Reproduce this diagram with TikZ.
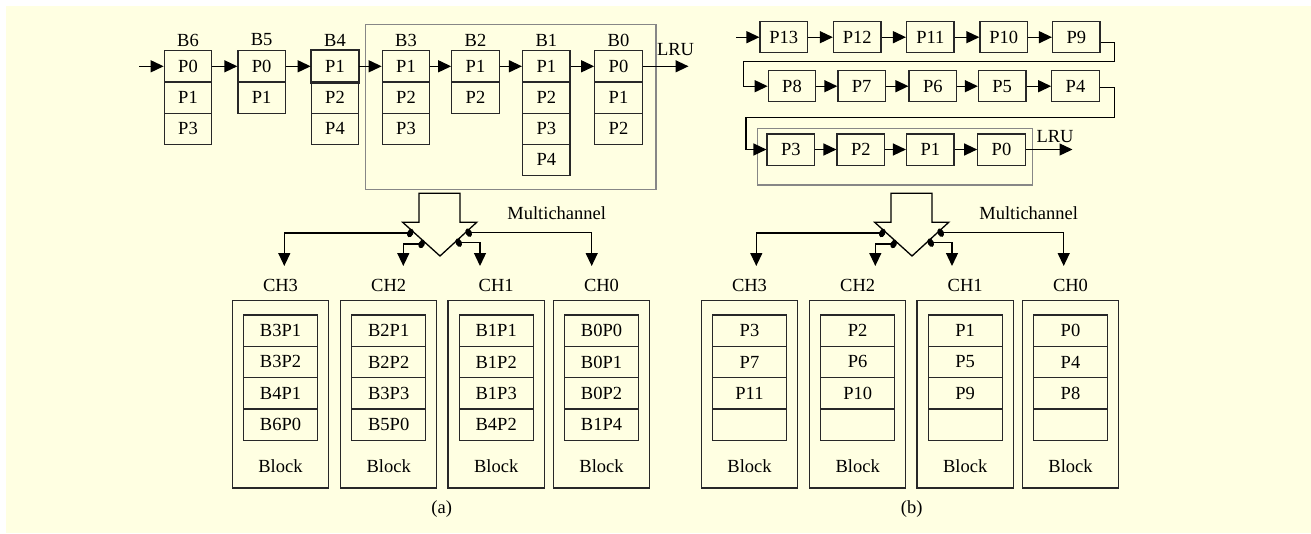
\documentclass[tikz,border=0pt]{standalone}
\usepackage{fontspec}
\setmainfont{Liberation Serif}
\usetikzlibrary{arrows.meta,shapes.geometric}
\definecolor{bg}{RGB}{255,255,226}
\definecolor{frame}{RGB}{135,135,135}
\definecolor{lc}{RGB}{40,40,40}
\newcommand\dfont{\fontsize{18.5}{21}\selectfont}
\begin{document}
\begin{tikzpicture}[x=1pt,y=-1pt,
  every node/.style={font=\dfont, inner sep=0pt},
  cell/.style={draw=lc, line width=1.2pt, minimum width=47.5pt, minimum height=31.2pt},
  icell/.style={draw=lc, line width=1.2pt, minimum width=73.9pt, minimum height=31.3pt},
  outerbox/.style={draw=lc, line width=1.2pt, minimum width=96.3pt, minimum height=187.5pt},
  arr/.style={-{Triangle[length=13pt,width=12pt]}, line width=1.3pt, draw=black},
  sw/.style={draw=black, line width=1.3pt},
  dotn/.style={ellipse, fill=black, minimum width=6pt, minimum height=9pt, rotate=-25},
  grp/.style={draw=frame, line width=1.1pt}]
\path[use as bounding box] (0,0) rectangle (1311,533);
\fill[bg] (6,6) rectangle (1311,533);

% ---------------- panel (a): block list ----------------
\draw[grp] (365.7,24.3) rectangle (656,189.3);
\foreach \n/\x/\lst in {6/188/{P0,P1,P3}, 5/261.7/{P0,P1}, 4/335/{P1,P2,P4}, 3/406/{P1,P2,P3}, 2/475.5/{P1,P2}, 1/546.3/{P1,P2,P3,P4}, 0/618.5/{P0,P1,P2}} {
  \node (hb\n) at (\x,40) {B\n};
  \foreach \t [count=\i] in \lst {
    \node[cell] (b\n c\i) at (\x,{66.3+31.2*(\i-1)}) {\t};
  }
}
\draw[draw=lc, line width=2pt] (b4c1.north west) rectangle (b4c1.south east);
\coordinate (ina) at (139,66.3);
\coordinate (lrua) at (688.5,66.3);
\draw[arr] (ina) -- (b6c1.west);
\draw[arr] (b6c1.east) -- (b5c1.west);
\draw[arr] (b5c1.east) -- (b4c1.west);
\draw[arr] (b4c1.east) -- (b3c1.west);
\draw[arr] (b3c1.east) -- (b2c1.west);
\draw[arr] (b2c1.east) -- (b1c1.west);
\draw[arr] (b1c1.east) -- (b0c1.west);
\draw[arr] (b0c1.east) -- (lrua);
\node (lrula) at (675.5,49.5) {LRU};

% ---------------- panel (b): page list ----------------
\draw[grp] (757.3,128.3) rectangle (1032.7,185);
\foreach \n/\x/\y in {13/783.8/37.2, 12/857.2/37.2, 11/930.3/37.2, 10/1003.7/37.2, 9/1076.3/37.2,
                      8/792/86.2, 7/861.7/86.2, 6/932.8/86.2, 5/1002.2/86.2, 4/1075.5/86.2,
                      3/790.8/149.5, 2/860.8/149.5, 1/930.3/149.5, 0/1001.5/149.5} {
  \node[cell] (p\n) at (\x,\y) {P\n};
}
\coordinate (inb) at (736,37.2);
\coordinate (lrub) at (1072.5,149.5);
\draw[arr] (inb) -- (p13.west);
\draw[arr] (p13.east) -- (p12.west);
\draw[arr] (p12.east) -- (p11.west);
\draw[arr] (p11.east) -- (p10.west);
\draw[arr] (p10.east) -- (p9.west);
\draw[arr] (p8.east) -- (p7.west);
\draw[arr] (p7.east) -- (p6.west);
\draw[arr] (p6.east) -- (p5.west);
\draw[arr] (p5.east) -- (p4.west);
\draw[arr] (p3.east) -- (p2.west);
\draw[arr] (p2.east) -- (p1.west);
\draw[arr] (p1.east) -- (p0.west);
\draw[arr] (p0.east) -- (lrub);
\node (lrulb) at (1055,136.7) {LRU};
\coordinate (w1a) at (1114.7,61.3);
\coordinate (w1b) at (743.3,61.3);
\coordinate (w2a) at (1114.7,117.7);
\coordinate (w2b) at (746,117.7);
\draw[arr] ([yshift=-5pt]p9.east) -| (w1a) -- (w1b) |- (p8.west);
\draw[arr] ([yshift=-1.5pt]p4.east) -| (w2a) -- (w2b) |- (p3.west);

% ---------------- multichannel switches ----------------
\foreach \s/\dx in {a/0, b/472} {
  \begin{scope}[xshift=\dx]
    \draw[sw, fill=bg] (419,193.3) -- (460,193.3) -- (460,222.3) -- (476.7,222.3) -- (440,256)
       -- (402.7,222.3) -- (419,222.3) -- cycle;
    \node[dotn] (dlo\s) at (410.3,233) {};
    \node[dotn] (dli\s) at (421.7,244) {};
    \node[dotn, rotate=50] (dri\s) at (458.7,242.7) {};
    \node[dotn, rotate=50] (dro\s) at (468.7,232.7) {};
    \coordinate (t3\s) at (284.3,266);
    \coordinate (t2\s) at (403.3,266);
    \coordinate (t1\s) at (480,266);
    \coordinate (t0\s) at (591.7,266);
    \draw[arr] (dlo\s.center) -| (t3\s);
    \draw[arr] (dli\s.center) -| (t2\s);
    \draw[arr] (dri\s.center) -| (t1\s);
    \draw[arr] (dro\s.center) -| (t0\s);
    \node (mc\s) at (556.7,213.3) {Multichannel};
  \end{scope}
}

% ---------------- channel blocks (a) ----------------
\foreach \c/\x/\lst in {3/280.5/{B3P1,B3P2,B4P1,B6P0}, 2/388.7/{B2P1,B2P2,B3P3,B5P0}, 1/496.2/{B1P1,B1P2,B1P3,B4P2}, 0/601.5/{B0P0,B0P1,B0P2,B1P4}} {
  \node[outerbox] (oa\c) at (\x,394.25) {};
  \node (cha\c) at (\x,285) {CH\c};
  \node (bka\c) at (\x,466) {Block};
  \foreach \t [count=\i] in \lst {
    \node[icell] (ia\c-\i) at (\x,{330.65+31.3*(\i-1)}) {\t};
  }
}
\node (capa) at (441.7,509.3) {(a)};

% ---------------- channel blocks (b) ----------------
\foreach \c/\x/\lst in {3/749.5/{P3,P7,P11}, 2/857.7/{P2,P6,P10}, 1/965.2/{P1,P5,P9}, 0/1070.5/{P0,P4,P8}} {
  \node[outerbox] (ob\c) at (\x,394.25) {};
  \node (chb\c) at (\x,285) {CH\c};
  \node (bkb\c) at (\x,466) {Block};
  \foreach \t [count=\i] in \lst {
    \node[icell] (ib\c-\i) at (\x,{330.65+31.3*(\i-1)}) {\t};
  }
  \node[icell] (ib\c-4) at (\x,424.55) {};
}
\node (capb) at (911.7,509.3) {(b)};
\end{tikzpicture}
\end{document}
